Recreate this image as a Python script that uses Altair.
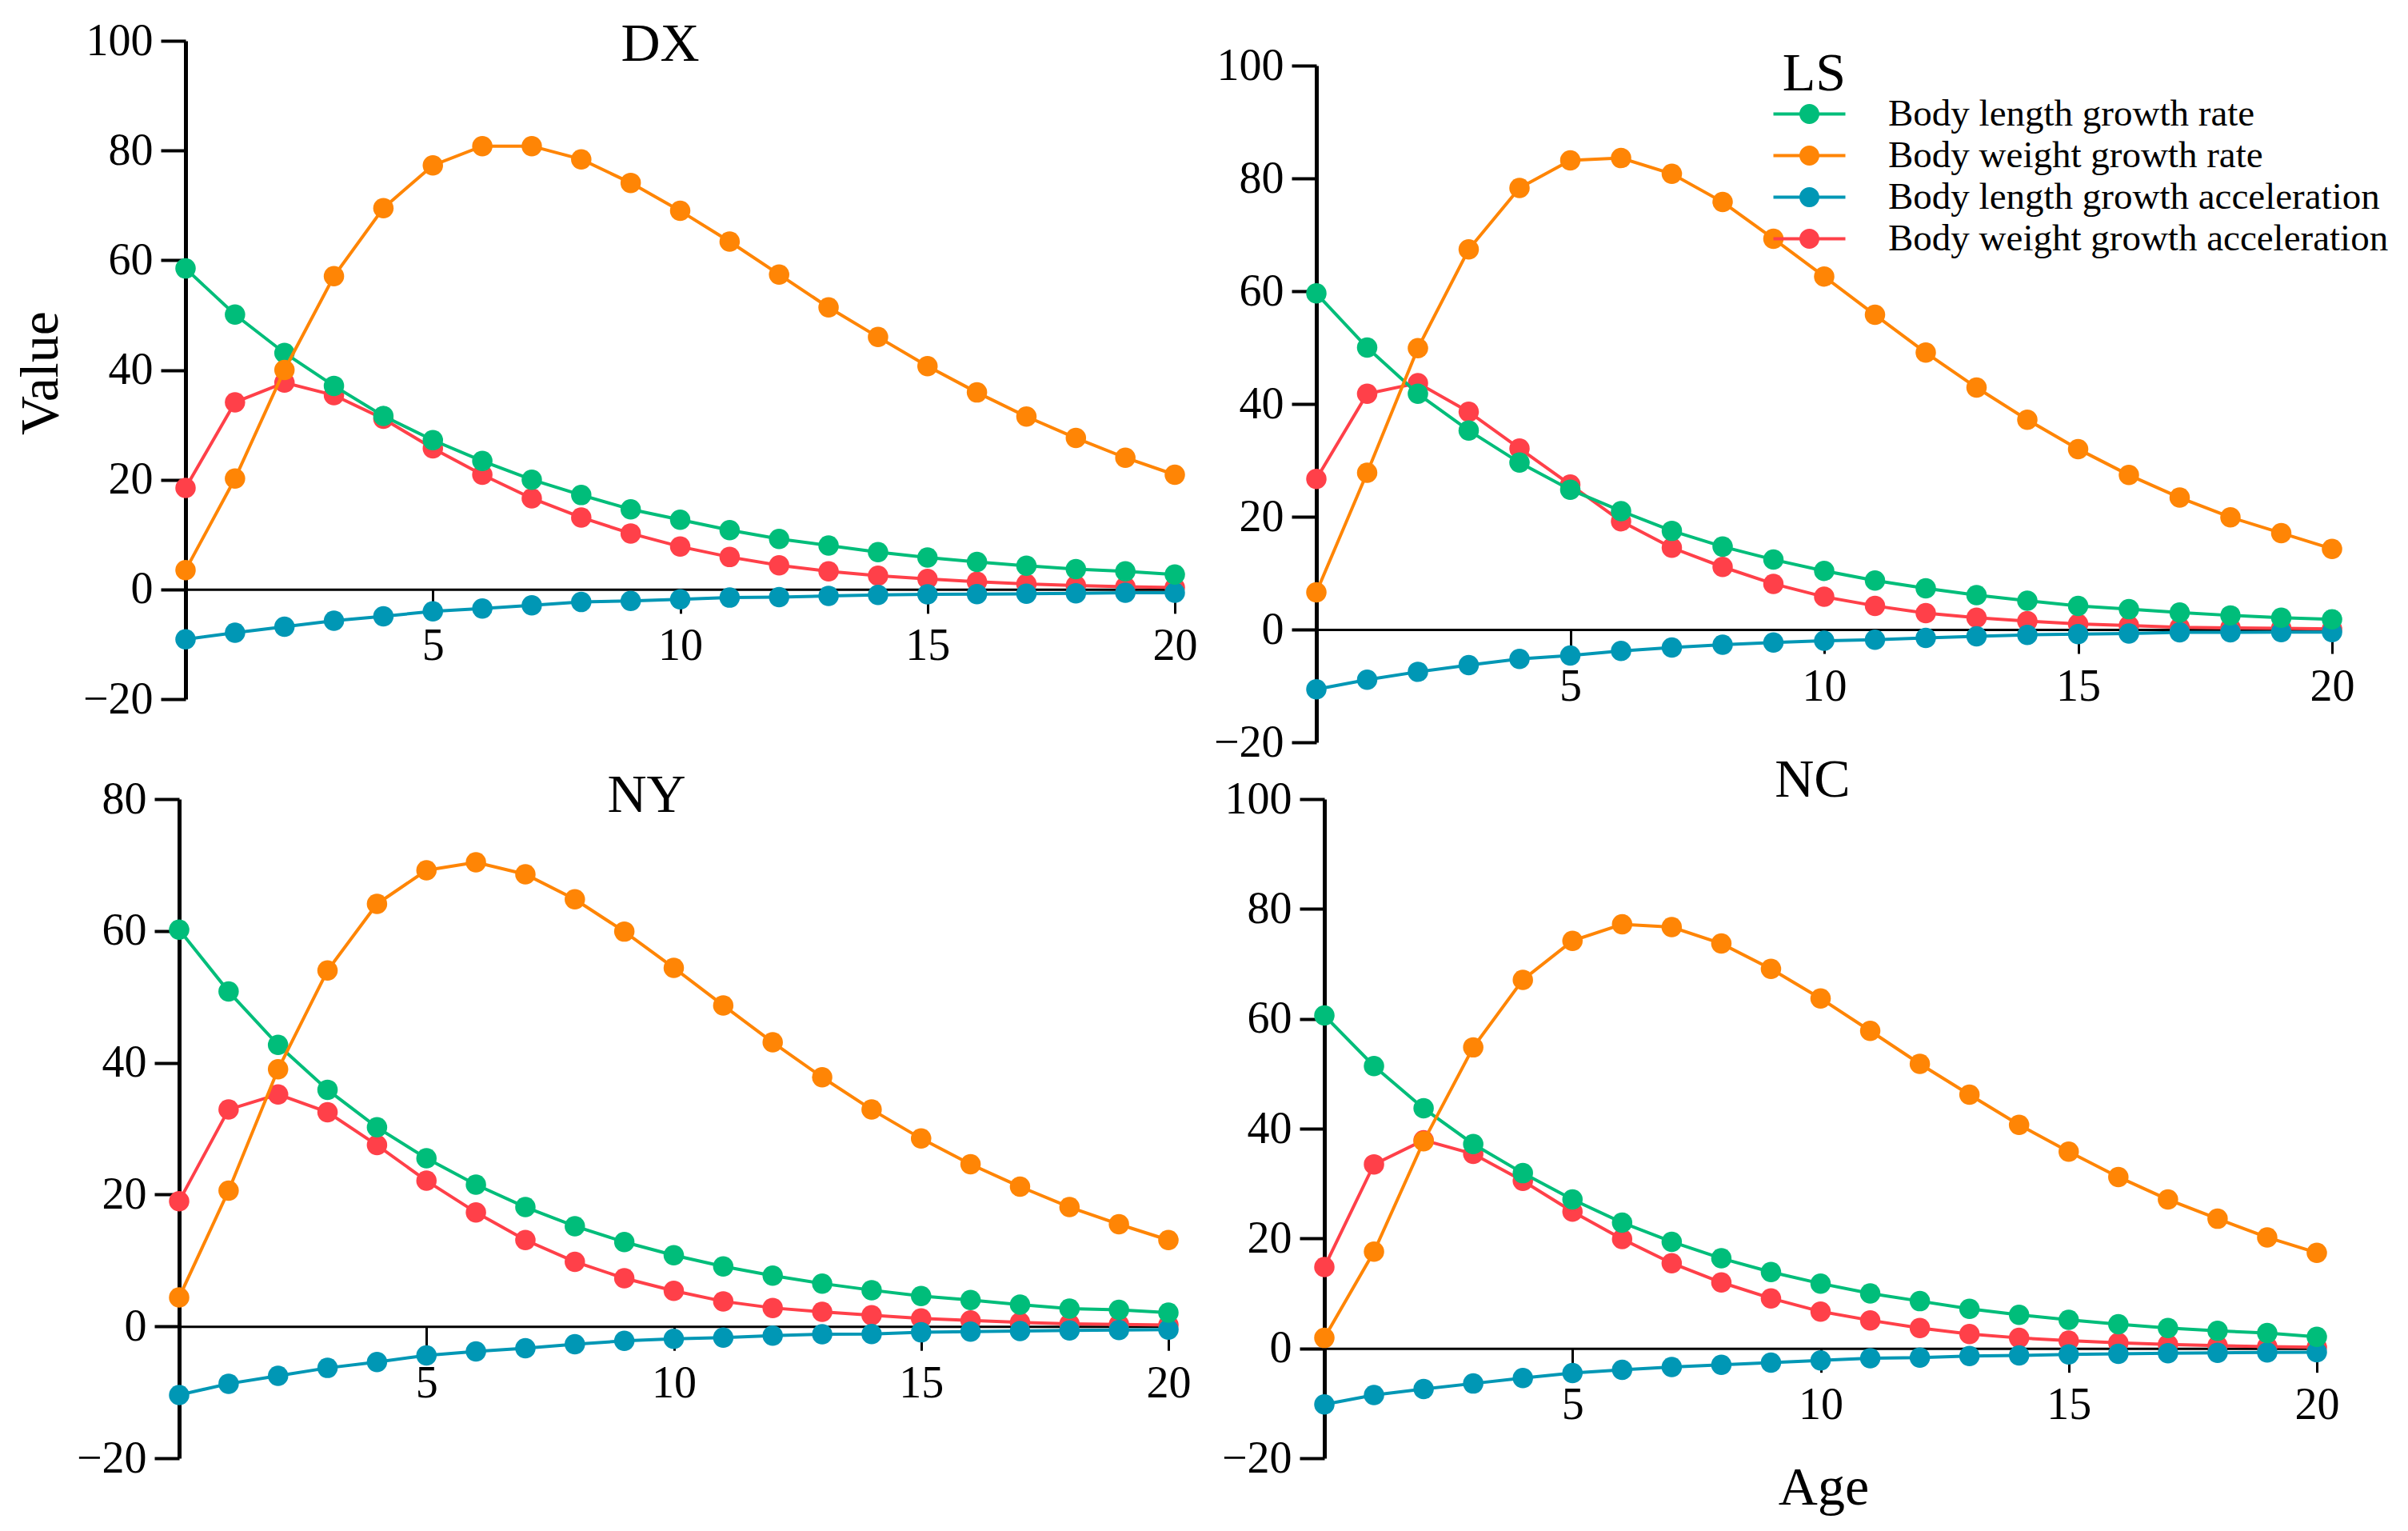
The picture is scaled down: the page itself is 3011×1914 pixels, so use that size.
import altair as alt
import pandas as pd

AGES = [0, 1, 2, 3, 4, 5, 6, 7, 8, 9, 10, 11, 12, 13, 14, 15, 16, 17, 18, 19, 20]

SERIES = [
    "Body length growth rate",
    "Body weight growth rate",
    "Body length growth acceleration",
    "Body weight growth acceleration",
]
COLORS = ["#00BD7A", "#FF8505", "#0097B5", "#FF4049"]
COLOR_OF = dict(zip(SERIES, COLORS))
DRAW_ORDER = [SERIES[3], SERIES[2], SERIES[0], SERIES[1]]

PANELS = ["DX", "LS", "NY", "NC"]

# ---- DX ----
DX_len_rate = [58.5, 50.1, 43.1, 37.1, 31.6, 27.2, 23.4, 20.0, 17.2, 14.6, 12.7, 10.8, 9.2, 8.0, 6.8, 5.8, 5.0, 4.3, 3.7, 3.3, 2.7]
DX_wt_rate = [3.5, 20.2, 40.0, 57.1, 69.5, 77.3, 80.8, 80.8, 78.4, 74.1, 69.0, 63.4, 57.4, 51.4, 46.0, 40.7, 35.9, 31.5, 27.6, 24.0, 20.9]
DX_len_acc = [-9.1, -7.9, -6.8, -5.7, -4.9, -4.0, -3.5, -2.9, -2.3, -2.1, -1.8, -1.5, -1.4, -1.2, -1.0, -0.9, -0.85, -0.8, -0.7, -0.6, -0.6]
DX_wt_acc = [18.5, 34.1, 37.7, 35.4, 31.1, 25.7, 20.9, 16.6, 13.1, 10.2, 7.8, 5.9, 4.4, 3.3, 2.5, 1.9, 1.4, 1.0, 0.7, 0.5, 0.35]

# ---- LS ----
LS_len_rate = [59.6, 50.0, 41.8, 35.3, 29.6, 24.8, 21.0, 17.5, 14.7, 12.4, 10.4, 8.7, 7.3, 6.1, 5.1, 4.2, 3.6, 3.0, 2.5, 2.1, 1.8]
LS_wt_rate = [6.6, 27.8, 49.9, 67.4, 78.3, 83.2, 83.6, 80.8, 75.8, 69.3, 62.6, 55.8, 49.1, 42.9, 37.2, 32.0, 27.4, 23.4, 19.9, 17.1, 14.3]
LS_len_acc = [-10.6, -8.9, -7.5, -6.3, -5.2, -4.6, -3.8, -3.2, -2.7, -2.3, -2.0, -1.8, -1.5, -1.2, -0.95, -0.8, -0.7, -0.5, -0.5, -0.45, -0.45]
LS_wt_acc = [26.7, 41.8, 43.7, 38.6, 32.1, 25.7, 19.2, 14.5, 11.1, 8.1, 5.8, 4.2, 2.9, 2.1, 1.5, 1.0, 0.7, 0.4, 0.3, 0.2, 0.1]

# ---- NY ----
NY_len_rate = [60.2, 50.8, 42.7, 35.9, 30.2, 25.5, 21.5, 18.1, 15.2, 12.8, 10.8, 9.1, 7.7, 6.5, 5.5, 4.6, 4.0, 3.3, 2.7, 2.5, 2.1]
NY_wt_rate = [4.4, 20.6, 39.0, 54.0, 64.1, 69.2, 70.4, 68.6, 64.8, 59.9, 54.4, 48.7, 43.1, 37.8, 32.9, 28.5, 24.6, 21.2, 18.1, 15.5, 13.1]
NY_len_acc = [-10.4, -8.7, -7.5, -6.3, -5.4, -4.4, -3.8, -3.3, -2.7, -2.2, -1.9, -1.7, -1.4, -1.2, -1.15, -0.9, -0.8, -0.7, -0.6, -0.55, -0.5]
NY_wt_acc = [19.0, 32.9, 35.2, 32.5, 27.5, 22.1, 17.3, 13.1, 9.8, 7.3, 5.4, 3.8, 2.8, 2.2, 1.7, 1.2, 0.9, 0.6, 0.4, 0.3, 0.2]

# ---- NC ----
NC_len_rate = [60.6, 51.4, 43.7, 37.2, 31.9, 27.1, 22.9, 19.4, 16.4, 13.9, 11.8, 10.0, 8.6, 7.2, 6.1, 5.2, 4.4, 3.7, 3.2, 2.8, 2.1]
NC_wt_rate = [1.9, 17.6, 37.7, 54.8, 67.1, 74.2, 77.2, 76.7, 73.7, 69.1, 63.7, 57.8, 51.8, 46.2, 40.7, 35.8, 31.2, 27.1, 23.6, 20.2, 17.4]
NC_len_acc = [-10.2, -8.5, -7.4, -6.4, -5.4, -4.5, -3.9, -3.4, -3.0, -2.6, -2.2, -1.8, -1.7, -1.4, -1.3, -1.1, -1.0, -0.9, -0.8, -0.75, -0.7]
NC_wt_acc = [14.8, 33.5, 37.9, 35.4, 30.5, 24.9, 19.9, 15.5, 12.0, 9.1, 6.7, 5.1, 3.7, 2.6, 1.9, 1.4, 1.0, 0.7, 0.5, 0.3, 0.2]

DATA = {
    "DX": [DX_len_rate, DX_wt_rate, DX_len_acc, DX_wt_acc],
    "LS": [LS_len_rate, LS_wt_rate, LS_len_acc, LS_wt_acc],
    "NY": [NY_len_rate, NY_wt_rate, NY_len_acc, NY_wt_acc],
    "NC": [NC_len_rate, NC_wt_rate, NC_len_acc, NC_wt_acc],
}

rows = []
for p in PANELS:
    for s, vals in zip(SERIES, DATA[p]):
        for a, v in zip(AGES, vals):
            rows.append({"panel": p, "series": s, "age": a, "value": v})
df = pd.DataFrame(rows)

FONT = "Liberation Serif"
W, H = 2995, 1898

# plot-area geometry of each panel (pixels inside the single view)
LAYOUT = {
    "DX": dict(x0=224, x1=1461, ytop=43, ybot=866, ymin=-20, ymax=100),
    "LS": dict(x0=1638, x1=2908, ytop=74, ybot=920, ymin=-20, ymax=100),
    "NY": dict(x0=216, x1=1453, ytop=991, ybot=1815, ymin=-20, ymax=80),
    "NC": dict(x0=1648, x1=2889, ytop=991, ybot=1815, ymin=-20, ymax=100),
}

LEGEND_PATH = ("M-2,-0.09H2V0.09H-2Z "
               "M-0.556,0A0.556,0.556,0,1,1,0.556,0A0.556,0.556,0,1,1,-0.556,0Z")

legend = alt.Legend(
    title=None, orient="none", legendX=2231, legendY=111,
    symbolType=LEGEND_PATH, symbolSize=2025, symbolStrokeWidth=0,
    symbolOpacity=1, symbolOffset=0,
    labelFont=FONT, labelFontSize=47, labelColor="black",
    labelOffset=75, labelLimit=2000, rowPadding=4, padding=0,
)

cscale = alt.Scale(domain=SERIES, range=COLORS)


def panel(p):
    L = LAYOUT[p]
    span = L["ymax"] - L["ymin"]
    zero = L["ytop"] + (L["ybot"] - L["ytop"]) * L["ymax"] / span
    xscale = alt.Scale(domain=[0, 20], range=[L["x0"], L["x1"]], nice=False, zero=False)
    yscale = alt.Scale(domain=[L["ymin"], L["ymax"]], range=[L["ybot"], L["ytop"]],
                       nice=False, zero=False)

    xa = dict(orient="bottom", offset=zero - H, values=[5, 10, 15, 20],
              domainColor="black", domainWidth=3, tickColor="black", tickWidth=3,
              tickSize=30, labelFont=FONT, labelFontSize=56, labelColor="black",
              labelPadding=14, labelFlush=False, grid=False,
              titleFont=FONT, titleFontSize=68, titleFontWeight="normal",
              titleColor="black", titleAngle=0, titleAlign="center",
              titleBaseline="alphabetic")
    ya = dict(orient="left", offset=-L["x0"],
              values=list(range(L["ymin"], L["ymax"] + 1, 20)),
              domainColor="black", domainWidth=5, tickColor="black", tickWidth=4,
              tickSize=31, labelFont=FONT, labelFontSize=56, labelColor="black",
              labelPadding=10, labelFlush=False, grid=False,
              titleFont=FONT, titleFontSize=68, titleFontWeight="normal",
              titleColor="black", titleBaseline="alphabetic", titleAlign="center")

    if p == "DX":
        xa.update(title="DX", titleX=817, titleY=75 - (zero + 8))
        ya.update(title="Value", titleX=-161, titleY=458, titleAngle=270)
    elif p == "LS":
        xa.update(title="LS", titleX=2260, titleY=112 - (zero + 8))
        ya.update(title=None)
    elif p == "NY":
        xa.update(title="NY", titleX=800, titleY=1015 - (zero + 8))
        ya.update(title=None)
    else:
        xa.update(title="Age", titleX=2272, titleY=1880 - (zero + 8))
        ya.update(title="NC", titleX=2266 - (L["x0"] + 8), titleY=987, titleAngle=0)

    xaxis = alt.Axis(**xa)
    yaxis = alt.Axis(**ya)

    base = alt.Chart(df).transform_filter(alt.datum.panel == p)
    layers = []
    for s in DRAW_ORDER:
        sub = base.transform_filter(alt.datum.series == s)
        x = alt.X("age:Q", scale=xscale, axis=xaxis)
        y = alt.Y("value:Q", scale=yscale, axis=yaxis)
        layers.append(sub.mark_line(strokeWidth=4, color=COLOR_OF[s]).encode(x=x, y=y))
        layers.append(sub.mark_circle(size=650, opacity=1).encode(
            x=x, y=y, color=alt.Color("series:N", scale=cscale, legend=legend)))
    return alt.layer(*layers)


chart = alt.layer(*[panel(p) for p in PANELS]).resolve_scale(
    x="independent", y="independent"
).resolve_axis(
    x="independent", y="independent"
).properties(
    width=W, height=H,
    autosize=alt.AutoSizeParams(type="none"),
    padding=0,
    background="white",
).configure_view(stroke=None)

chart.save("out.html", embed_options={"renderer": "svg", "actions": False})
